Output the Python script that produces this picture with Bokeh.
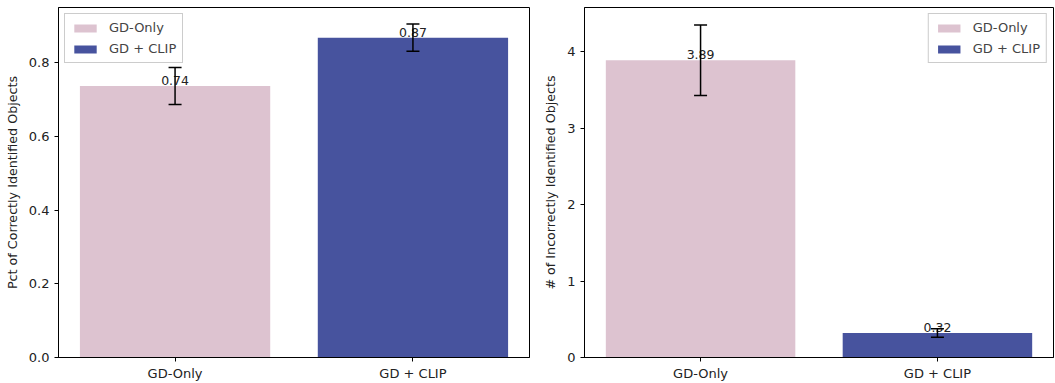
from bokeh.plotting import figure
from bokeh.models import ColumnDataSource, Whisker, TeeHead, FactorRange, Range1d, FixedTicker, Legend, NumeralTickFormatter
from bokeh.layouts import row
from bokeh.embed import file_html
from bokeh.resources import INLINE
from bokeh.core.properties import value

categories = ["GD-Only", "GD + CLIP"]
colors = ["#ddc3d0", "#47539e"]
correct_vals = [0.737, 0.868]
correct_err = [0.05, 0.037]
incorrect_vals = [3.89, 0.32]
incorrect_err = [0.46, 0.055]
correct_ticks = [0.0, 0.2, 0.4, 0.6, 0.8]
incorrect_ticks = [0, 1, 2, 3, 4]

FONT = "DejaVu Sans"


def make(vals, errs, ylabel, ymax, ticks, legend_loc, width, left, right, fmt):
    src = ColumnDataSource(dict(
        cat=categories, val=vals, color=colors,
        upper=[v + e for v, e in zip(vals, errs)],
        lower=[v - e for v, e in zip(vals, errs)],
        label=[f"{v:.2f}" for v in vals],
    ))
    p = figure(x_range=FactorRange(*categories, range_padding=-0.01),
               y_range=Range1d(0, ymax),
               width=width, height=383, output_backend="svg", toolbar_location=None,
               min_border_left=left, min_border_right=right, min_border_top=7,
               min_border_bottom=24)
    items = []
    for i, c in enumerate(categories):
        s = ColumnDataSource(dict(cat=[c], val=[vals[i]]))
        r = p.vbar(x="cat", top="val", width=0.8, source=s, fill_color=colors[i], line_color=None)
        items.append((c, [r]))
    p.text(x="cat", y="val", text="label", source=src, text_align="center",
           text_baseline="bottom", y_offset=-1, text_font=value(FONT), text_font_size="12.5px",
           text_color="#222222")
    w = Whisker(base="cat", upper="upper", lower="lower", source=src,
                line_color="black", line_width=1.5, level="overlay",
                upper_head=TeeHead(size=13, line_color="black", line_width=1.5),
                lower_head=TeeHead(size=13, line_color="black", line_width=1.5))
    p.add_layout(w)
    leg = Legend(items=items, location=legend_loc, label_text_font=FONT,
                 label_text_font_size="13px", glyph_width=28, glyph_height=10,
                 label_standoff=10, spacing=6, padding=6, margin=6,
                 border_line_color="#cccccc", border_line_alpha=1.0,
                 background_fill_alpha=0.8, label_height=14)
    p.add_layout(leg)
    p.xgrid.visible = False
    p.ygrid.visible = False
    p.outline_line_color = "black"
    p.outline_line_width = 1
    p.yaxis.ticker = FixedTicker(ticks=ticks)
    p.yaxis.formatter = NumeralTickFormatter(format=fmt)
    p.yaxis.axis_label = ylabel
    for ax in (p.xaxis[0], p.yaxis[0]):
        ax.axis_line_color = "black"
        ax.major_tick_line_color = "black"
        ax.major_tick_out = 4
        ax.major_tick_in = 0
        ax.minor_tick_line_color = None
        ax.major_label_text_font = FONT
        ax.major_label_text_font_size = "13px"
        ax.major_label_text_color = "#222222"
        ax.axis_label_text_font = FONT
        ax.axis_label_text_font_size = "12.7px"
        ax.axis_label_text_font_style = "normal"
        ax.axis_label_text_color = "#222222"
    p.yaxis.axis_label_standoff = 6
    p.xaxis.major_label_standoff = 4
    return p


p1 = make(correct_vals, correct_err, "Pct of Correctly Identified Objects", 0.95,
          correct_ticks, "top_left", 530, 58, 1, "0.0")
p2 = make(incorrect_vals, incorrect_err, "# of Incorrectly Identified Objects", 4.58,
          incorrect_ticks, "top_right", 525, 54, 2, "0")

lay = row(p1, p2, spacing=0)
open("out.html", "w").write(file_html(lay, INLINE))
